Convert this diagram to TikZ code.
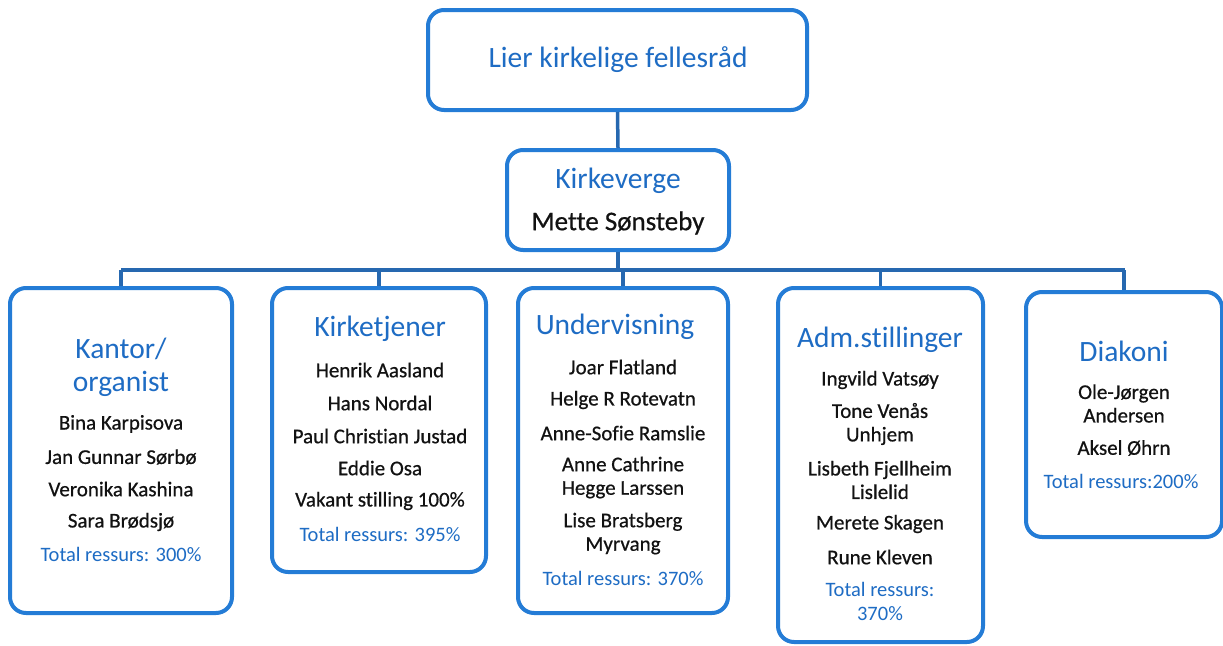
\documentclass[tikz,border=0pt]{standalone}
\usepackage{fontspec}
\setmainfont{Carlito}[Ligatures=NoCommon]
\newfontfamily\namefont{Carlito}[Ligatures=NoCommon, FakeBold=0.6]
\definecolor{bord}{RGB}{36,124,214}
\definecolor{lnk}{RGB}{38,104,176}
\definecolor{ttl}{RGB}{30,108,196}
\definecolor{nm}{RGB}{18,18,18}
\tikzset{
 box/.style={draw=bord, line width=4pt, rounded corners=16pt, fill=white, inner sep=0pt},
 conn/.style={draw=lnk, line width=3.5pt},
 ttltxt/.style={text=ttl, font=\fontsize{29.5}{33}\selectfont, inner sep=0pt, align=center},
 nametxt/.style={text=nm, font=\namefont\fontsize{21}{23.5}\selectfont, inner sep=0pt, align=center},
 tottxt/.style={text=ttl, font=\fontsize{20.5}{24}\selectfont, inner sep=0pt, align=center},
}
\begin{document}
\begin{tikzpicture}[x=1pt,y=-1pt]
\useasboundingbox (0,0) rectangle (1223,645);
\coordinate (barL) at (121,270);
\coordinate (barR) at (1125,270);
\node[box, minimum width=379pt, minimum height=100pt] (top) at (617.5,60) {};
\node[box, minimum width=222pt, minimum height=100pt] (kv) at (618,200) {};
\node[box, minimum width=222pt, minimum height=325pt] (k1) at (121,450.5) {};
\node[box, minimum width=214pt, minimum height=284pt] (k2) at (379,430) {};
\node[box, minimum width=210pt, minimum height=325pt] (k3) at (623,450.5) {};
\node[box, minimum width=205pt, minimum height=354pt] (k4) at (880.5,465) {};
\node[box, minimum width=196pt, minimum height=245pt] (k5) at (1124,414.5) {};
\draw[conn] (top.south) -- (kv.north);
\draw[conn] (kv.south) -- (kv.south |- barL);
\draw[conn] (barL) -- (barR);
\draw[conn] (k1.north |- barL) -- (k1.north);
\draw[conn] (k2.north |- barL) -- (k2.north);
\draw[conn] (k3.north |- barL) -- (k3.north);
\draw[conn] (k4.north |- barL) -- (k4.north);
\draw[conn] (k5.north |- barL) -- (k5.north);
% texts
\node[ttltxt] (t0) at (618,60) {Lier kirkelige fellesråd};
\node[ttltxt] (tkv) at (618,181) {Kirkeverge};
\node[nametxt, font=\namefont\fontsize{27}{30}\selectfont] (mette) at (618,223) {Mette Sønsteby};
% box 1
\node[ttltxt] (t1) at (121,367) {Kantor/\\organist};
\node[nametxt] (a1) at (121,424) {Bina Karpisova};
\node[nametxt] (a2) at (121,457) {Jan Gunnar Sørbø};
\node[nametxt] (a3) at (121,489) {Veronika Kashina};
\node[nametxt] (a4) at (121,522) {Sara Brødsjø};
\node[tottxt] (a5) at (121,554) {Total ressurs: 300\%};
% box 2
\node[ttltxt] (t2) at (380,329) {Kirketjener};
\node[nametxt] (b1) at (380,370) {Henrik Aasland};
\node[nametxt] (b2) at (380,403) {Hans Nordal};
\node[nametxt] (b3) at (380,436) {Paul Christian Justad};
\node[nametxt] (b4) at (380,468) {Eddie Osa};
\node[nametxt] (b5) at (380,501) {Vakant stilling 100\%};
\node[tottxt] (b6) at (380,534) {Total ressurs: 395\%};
% box 3
\node[ttltxt] (t3) at (615,327) {Undervisning};
\node[nametxt] (c1) at (623,367) {Joar Flatland};
\node[nametxt] (c2) at (623,400) {Helge R Rotevatn};
\node[nametxt] (c3) at (623,433) {Anne-Sofie Ramslie};
\node[nametxt] (c4) at (623,477.5) {Anne Cathrine\\Hegge Larssen};
\node[nametxt] (c5) at (623,533.5) {Lise Bratsberg\\Myrvang};
\node[tottxt] (c6) at (623,578) {Total ressurs: 370\%};
% box 4
\node[ttltxt] (t4) at (880,340) {Adm.stillinger};
\node[nametxt] (d1) at (880,380) {Ingvild Vatsøy};
\node[nametxt] (d2) at (880,424) {Tone Venås\\Unhjem};
\node[nametxt] (d3) at (880,480) {Lisbeth Fjellheim\\Lislelid};
\node[nametxt] (d4) at (880,524) {Merete Skagen};
\node[nametxt] (d5) at (880,557) {Rune Kleven};
\node[tottxt] (d6) at (880,601) {Total ressurs:\\370\%};
% box 5
\node[ttltxt] (t5) at (1124,351) {Diakoni};
\node[nametxt] (e1) at (1124,403.5) {Ole-Jørgen\\Andersen};
\node[nametxt] (e2) at (1124,448) {Aksel Øhrn};
\node[tottxt] (e3) at (1121,481) {Total ressurs:200\%};
\end{tikzpicture}
\end{document}
